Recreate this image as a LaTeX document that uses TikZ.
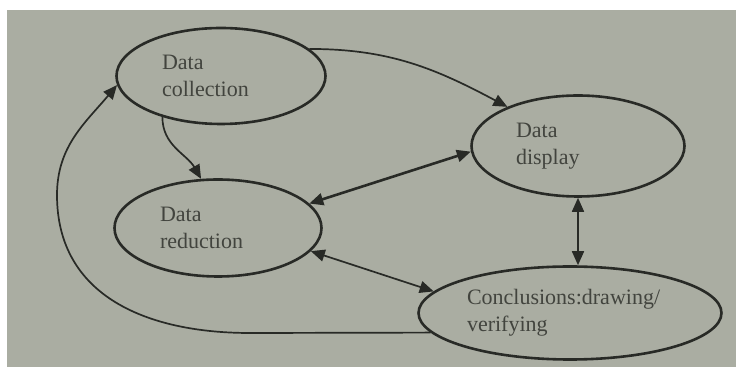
\documentclass[tikz,border=0pt]{standalone}
\usepackage{fontspec}
\setmainfont{Liberation Serif}
\usetikzlibrary{positioning}
\usetikzlibrary{shapes.geometric,arrows.meta}

\definecolor{papel}{RGB}{170,173,162}
\definecolor{tinta}{RGB}{40,42,38}
\definecolor{letra}{RGB}{66,68,62}

\begin{document}
\begin{tikzpicture}[x=1pt,y=1pt]
		\tikzstyle{ovalnode} = [draw = tinta, shape = ellipse, line width = 2.6pt, inner sep = 0pt, text = letra, align = left, font = \fontsize{22}{27}\selectfont]
		\tikzstyle{link} = [draw = tinta, line width = 1.7pt, >={Triangle[length = 14pt, width = 12pt]}]
	% Fondo
		\useasboundingbox (0, 0) rectangle (736, 377);
		\fill[white] (0, 0) rectangle (736, 377);
		\fill[papel] (7, 10) rectangle (736, 367);

	% Nodos
		\node[ovalnode, minimum width = 209pt, minimum height = 96pt, text width = 118pt] (collect) at (221, 301) {Data\\collection};
		\node[ovalnode, minimum width = 213pt, minimum height = 101pt, text width = 124pt] (display) at (578, 231) {Data\\display};
		\node[ovalnode, minimum width = 207pt, minimum height = 97pt, text width = 116pt] (reduct) at (218, 149) {Data\\reduction};
		\node[ovalnode, minimum width = 303pt, minimum height = 93pt, text width = 206pt] (concl) at (570, 64) {Conclusions:drawing/\\verifying};

		\coordinate (bend) at (250, 44);
		\coordinate (side) at (57, 182);

	% Enlaces
		\draw[link, ->] (collect.17) to[out = 0, in = 152] (display.151);
		\draw[link, ->] (collect.215) to[out = -90, in = 120] (reduct.109);
		\draw[link, <->, line width = 2.6pt] (reduct.15) -- (display.183);
		\draw[link, <->] (display.south) -- (display.south |- concl.north);
		\draw[link, <->] (reduct.-14) -- (concl.171);
		\draw[link, ->] (concl.188) -- (bend) to[out = 180, in = -90, looseness = 1.1] (side) to[out = 90, in = -130] (collect.185);

	\end{tikzpicture}
\end{document}
